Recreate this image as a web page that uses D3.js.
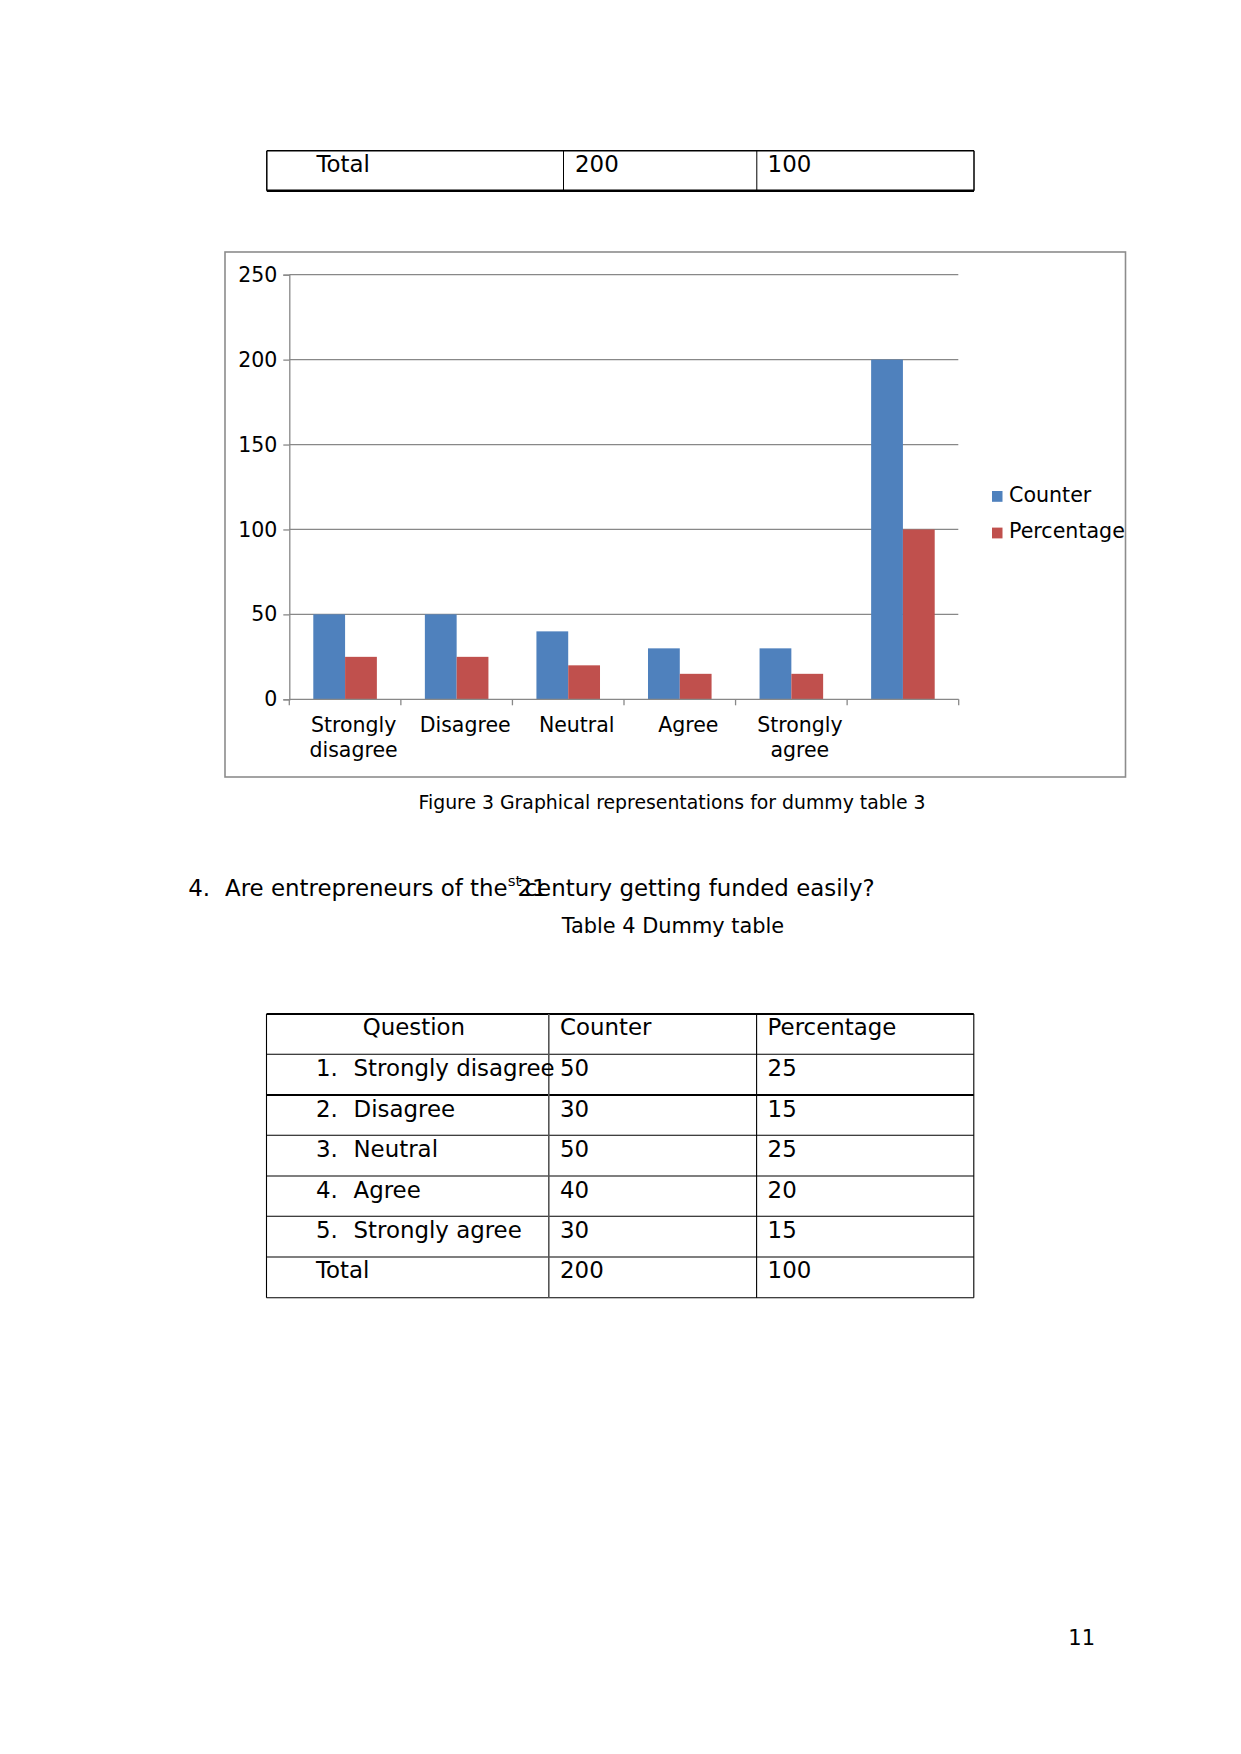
<!DOCTYPE html>
<html>
<head>
<meta charset="utf-8">
<script src="https://cdn.jsdelivr.net/npm/d3@7/dist/d3.min.js"></script>
<style>
  html, body { margin: 0; padding: 0; background: #fff; }
  svg { display: block; font-family: "DejaVu Sans", sans-serif; }
</style>
</head>
<body>
<svg id="page" width="1241" height="1754"></svg>
<script>
// ---- Chart data (Figure 3) ----
const categories = ["Strongly disagree", "Disagree", "Neutral", "Agree", "Strongly agree", ""];
const seriesNames = ["Counter", "Percentage"];
const counterValues = [50, 50, 40, 30, 30, 200];
const percentageValues = [25, 25, 20, 15, 15, 100];
const yTicks = [0, 50, 100, 150, 200, 250];
const seriesColors = ["#4F81BD", "#C0504D"];

// ---- Top table fragment (end of table 3) ----
const prevTotalRow = ["Total", "200", "100"];

// ---- Table 4 data ----
const tableHeader = ["Question", "Counter", "Percentage"];
const tableQuestions = ["Strongly disagree", "Disagree", "Neutral", "Agree", "Strongly agree"];
const tableCounter = [50, 30, 50, 40, 30];
const tablePercentage = [25, 15, 25, 20, 15];
const tableTotal = ["Total", "200", "100"];

const svg = d3.select("#page");
svg.append("rect").attr("width", 1241).attr("height", 1754).attr("fill", "#fff");

const BODY = 22.9;

// ---------- Top table fragment ----------
(function () {
  const g = svg.append("g");
  const x0 = 266.8, x1 = 563.5, x2 = 756.8, x3 = 974, yt = 150.7, yb = 190.7;
  g.append("line").attr("x1", x0).attr("x2", x3).attr("y1", yt).attr("y2", yt).attr("stroke", "#000").attr("stroke-width", 1.5);
  g.append("line").attr("x1", x0).attr("x2", x3).attr("y1", yb).attr("y2", yb).attr("stroke", "#000").attr("stroke-width", 2.5);
  [x0, x1, x2, x3].forEach(x => g.append("line").attr("x1", x).attr("x2", x).attr("y1", yt).attr("y2", yb).attr("stroke", "#000").attr("stroke-width", x === x0 || x === x3 ? 1.5 : 1));
  const tx = [316.5, 575, 767.6];
  prevTotalRow.forEach((t, i) => g.append("text").attr("x", tx[i]).attr("y", 171.7).attr("font-size", BODY).attr("fill", "#000").text(t));
})();

// ---------- Chart ----------
(function () {
  const g = svg.append("g");
  // outer frame
  g.append("rect").attr("x", 225).attr("y", 252).attr("width", 900.5).attr("height", 525)
    .attr("fill", "#fff").attr("stroke", "#8c8c8c").attr("stroke-width", 1.6);

  const left = 289.3, right = 958.7, top = 274.7, bottom = 699.3;
  const y = d3.scaleLinear().domain([0, 250]).range([bottom, top]);
  const x = d3.scaleBand().domain(categories.map((c, i) => i)).range([left, right]).paddingInner(0).paddingOuter(0);
  const xs = d3.scaleBand().domain(seriesNames).range([0, x.bandwidth()]).paddingInner(0).paddingOuter(0.755);
  const gridColor = "#888";

  // gridlines
  g.append("g").selectAll("line").data(yTicks.filter(d => d > 0)).join("line")
    .attr("x1", left).attr("x2", right - 0.4)
    .attr("y1", d => y(d)).attr("y2", d => y(d))
    .attr("stroke", gridColor).attr("stroke-width", 1.3);

  // y axis
  const yAxis = g.append("g").attr("transform", `translate(${left},0)`)
    .call(d3.axisLeft(y).tickValues(yTicks).tickSize(6).tickPadding(6).tickFormat(d3.format("d")));
  yAxis.select(".domain").attr("stroke", gridColor).attr("stroke-width", 1.3);
  yAxis.selectAll(".tick line").attr("stroke", gridColor).attr("stroke-width", 1.3);
  yAxis.selectAll("text").attr("font-size", 20.5).attr("font-family", "DejaVu Sans").attr("fill", "#000");

  // bars
  const data = categories.map((c, i) => ({ i, vals: [counterValues[i], percentageValues[i]] }));
  const grp = g.append("g").selectAll("g").data(data).join("g")
    .attr("transform", d => `translate(${x(d.i)},0)`);
  grp.selectAll("rect").data(d => d.vals.map((v, k) => ({ k, v }))).join("rect")
    .attr("x", d => xs(seriesNames[d.k]))
    .attr("width", xs.bandwidth())
    .attr("y", d => y(d.v))
    .attr("height", d => y(0) - y(d.v))
    .attr("fill", d => seriesColors[d.k]);

  // x axis line and band-edge ticks
  const edges = categories.map((c, i) => x(i)).concat([x(categories.length - 1) + x.bandwidth()]);
  g.append("line").attr("x1", left).attr("x2", right).attr("y1", y(0)).attr("y2", y(0))
    .attr("stroke", gridColor).attr("stroke-width", 1.3);
  g.append("g").selectAll("line").data(edges).join("line")
    .attr("x1", d => d).attr("x2", d => d).attr("y1", y(0)).attr("y2", y(0) + 6)
    .attr("stroke", gridColor).attr("stroke-width", 1.3);

  // category labels (wrapped)
  const cx = i => x(i) + x.bandwidth() / 2 + 8.5;
  const lab = g.append("g").selectAll("text").data(categories.map((c, i) => ({ c, i }))).join("text")
    .attr("x", d => cx(d.i))
    .attr("y", 732.3)
    .attr("text-anchor", "middle").attr("font-size", 20.5).attr("fill", "#000");
  lab.each(function (d) {
    const words = d.c.split(" ");
    const t = d3.select(this);
    words.forEach((w, wi) => {
      t.append("tspan").attr("x", cx(d.i)).attr("dy", wi === 0 ? 0 : 25).text(w);
    });
  });

  // legend
  const leg = g.append("g").selectAll("g").data(seriesNames).join("g")
    .attr("transform", (d, i) => `translate(992, ${491 + i * 36.6})`);
  leg.append("rect").attr("width", 10.5).attr("height", 10.8).attr("fill", (d, i) => seriesColors[i]);
  leg.append("text").attr("x", 17).attr("y", 10.8).attr("font-size", 20.6).attr("fill", "#000").text(d => d);
})();

// caption
svg.append("text").attr("x", 418.5).attr("y", 809.3).attr("font-size", 18.85).attr("fill", "#000")
  .text("Figure 3 Graphical representations for dummy table 3");

// question heading
svg.append("text").attr("x", 188.3).attr("y", 896).attr("font-size", BODY).attr("fill", "#000").text("4.");
const q = svg.append("text").attr("x", 225).attr("y", 896).attr("font-size", BODY).attr("fill", "#000");
q.append("tspan").text("Are entrepreneurs of the");
q.append("tspan").attr("font-size", 14.9).attr("dy", -10).text("st");
q.append("tspan").attr("dy", 10).attr("dx", -4).text(" century getting funded easily?");
svg.append("text").attr("x", 517.5).attr("y", 896).attr("font-size", BODY).attr("fill", "#000").text("21");

svg.append("text").attr("x", 561.7).attr("y", 932.7).attr("font-size", 20.9).attr("fill", "#000").text("Table 4 Dummy table");

// ---------- Table 4 ----------
(function () {
  const g = svg.append("g");
  const cols = [266.5, 548.8, 756.6, 973.8];
  const rows = [1014, 1054.3, 1095, 1135.3, 1176, 1216.3, 1257, 1297.7];
  rows.forEach((yy, i) => {
    const thick = (i === 0 || i === 2);
    g.append("line").attr("x1", cols[0]).attr("x2", cols[3]).attr("y1", yy).attr("y2", yy)
      .attr("stroke", "#000").attr("stroke-width", thick ? 2 : 1.1);
  });
  cols.forEach((xx, i) => {
    g.append("line").attr("x1", xx).attr("x2", xx).attr("y1", rows[0]).attr("y2", rows[rows.length - 1])
      .attr("stroke", i === 1 ? "#555" : "#000").attr("stroke-width", i === 1 ? 1.6 : 1.1);
  });
  const txt = (x, y, s) => g.append("text").attr("x", x).attr("y", y).attr("font-size", BODY).attr("fill", "#000").text(s);
  txt(362.7, 1035, tableHeader[0]);
  txt(560, 1035, tableHeader[1]);
  txt(767.6, 1035, tableHeader[2]);
  tableQuestions.forEach((qq, i) => {
    const by = rows[i + 1] + 21.6;
    txt(316, by, (i + 1) + ".");
    txt(353.5, by, qq);
    txt(560, by, String(tableCounter[i]));
    txt(767.6, by, String(tablePercentage[i]));
  });
  const ty = rows[6] + 21.4;
  txt(316, ty, tableTotal[0]);
  txt(560, ty, tableTotal[1]);
  txt(767.6, ty, tableTotal[2]);
})();

// page number
svg.append("text").attr("x", 1068.3).attr("y", 1645).attr("font-size", 21).attr("fill", "#000").text("11");
</script>
</body>
</html>
